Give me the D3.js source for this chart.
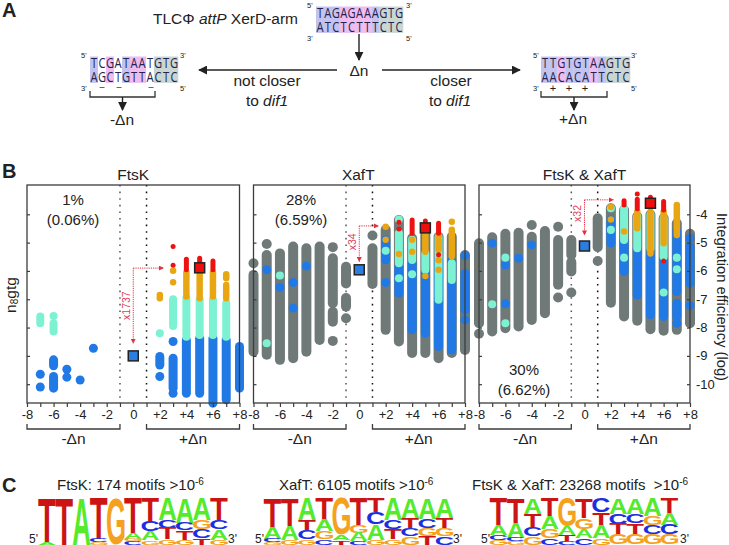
<!DOCTYPE html>
<html><head><meta charset="utf-8">
<style>html,body{margin:0;padding:0;background:#fff}svg{display:block}
text{font-family:"Liberation Sans",Arial,sans-serif;fill:#222}</style>
<script src="https://cdnjs.cloudflare.com/ajax/libs/d3/7.8.5/d3.min.js"></script>
</head><body><svg id="c" width="729" height="545"></svg>
<script>
// ---------- DATA ----------
const xTicks=[-8,-7,-6,-5,-4,-3,-2,-1,0,1,2,3,4,5,6,7,8];
const xLabels={"-8":"-8","-6":"-6","-4":"-4","-2":"-2","0":"0","2":"+2","4":"+4","6":"+6","8":"+8"};
const yTicks=[-4,-5,-6,-7,-8,-9,-10];

// each mark: [delta n, log efficiency top, log efficiency bottom (optional)]
const ftskGray=[];
const ftskBlue=[[-7,-9.65],[-7,-10.1],[-6,-9.14,-9.35],[-6,-9.73,-10.14],[-5,-9.47],[-5,-9.75],[-4,-9.85],[-3,-8.73],[2,-9.02,-9.32],[2,-9.73],[3,-8.49],[3,-9.08,-10.14],[3,-10.32],[4,-8.44,-10.32],[5,-8.38,-10.32],[6,-8.38,-10.67],[7,-8.44,-10.55],[8,-8.67,-10.14]];
const ftskCyan=[[-7,-7.61,-7.85],[-6,-7.59],[-6,-7.85,-8.14],[2,-8.2],[3,-7.0,-7.94],[4,-6.96,-8.32],[5,-7.02,-8.26],[6,-7.02,-8.26],[7,-7.13,-8.32]];
const ftskOrange=[[2,-6.85,-6.96],[3,-5.99],[3,-6.4],[4,-6.05,-6.9],[5,-6.05,-6.96],[6,-6.05,-6.9],[7,-6.12,-6.26],[7,-6.5,-6.96]];
const ftskRed=[[3,-5.14],[3,-5.8],[4,-5.59,-5.96],[5,-5.55,-5.9],[6,-5.65,-5.96]];
const ftskSquares=[[0,-9.0,"#2a7de1"],[5,-5.89,"#f00d0d"]];

const xafGray=[[-8,-5.73],[-8,-6.14,-8.85],[-7,-5.05],[-7,-5.44,-8.96],[-6,-5.38,-9.14],[-5,-5.14,-9.08],[-4,-5.2,-8.85],[-3,-5.14,-8.44],[-2,-5.16],[-2,-5.55,-7.14],[-2,-7.44,-7.79],[-2,-8.47],[-1,-5.85,-6.44],[-1,-6.96,-7.26],[-1,-7.67],[1,-4.75],[1,-5.2,-6.46],[2,-4.55,-8.08],[3,-4.2,-8.49],[4,-4.85,-8.9],[5,-4.73,-8.9],[6,-4.79,-9.08],[7,-4.79,-8.9],[8,-5.44,-8.79]];
const xafBlue=[[-7,-5.96],[-6,-6.58],[-5,-6.41],[-5,-7.31],[-4,-5.83],[2,-4.9,-5.61],[2,-6.41],[3,-5.85,-6.79],[4,-5.73,-8.08],[5,-6.02,-8.2],[6,-5.61,-8.67],[7,-5.61,-8.79],[8,-5.46],[8,-6.08,-7.38],[8,-7.73]];
const xafCyan=[[-7,-8.55],[-6,-6.16],[2,-5.29],[3,-4.18],[3,-4.67,-5.73],[3,-6.26],[4,-4.9,-5.61],[4,-6.12],[5,-5.38,-5.96],[6,-4.81,-6.9],[6,-7.02],[7,-5.73,-6.32]];
const xafOrange=[[2,-4.44],[2,-4.9],[3,-5.4],[4,-4.9],[4,-5.32],[5,-4.73,-5.32],[5,-6.18],[6,-4.75,-5.25],[6,-5.62],[6,-5.96],[7,-4.26],[7,-4.55,-5.49]];
const xafRed=[[3,-4.28],[3,-4.52],[4,-4.2,-4.67],[5,-4.24],[6,-4.32,-4.67],[6,-5.43]];
const xafSquares=[[0,-5.96,"#2a7de1"],[5,-4.48,"#f00d0d"]];

const bothGray=[[-8,-5.02,-7.85],[-8,-8.22],[-7,-4.81,-8.14],[-6,-4.69,-8.02],[-5,-4.65,-7.96],[-4,-4.38],[-4,-4.79,-7.73],[-3,-4.59,-7.49],[-2,-4.44],[-2,-4.91,-6.49],[-2,-6.94],[-1,-4.91,-5.44],[-1,-5.69,-6.02],[-1,-6.76],[1,-4.14,-5.16],[1,-5.65],[2,-3.79,-7.12],[3,-3.85,-7.61],[4,-4.08,-7.76],[5,-4.02,-8.06],[6,-4.14,-8.11],[7,-4.32,-8.08],[8,-4.69,-7.85]];
const bothBlue=[[-7,-5.02],[-6,-5.79],[-6,-7.16],[-5,-5.55],[-4,-5.08],[2,-4.2,-5.02],[3,-4.91,-6.02],[4,-5.2,-6.85],[5,-5.44,-7.55],[6,-5.61,-7.61],[7,-4.61,-6.73],[7,-7.14,-7.61],[7,-7.85],[8,-4.85],[8,-5.14,-6.44],[8,-7.22]];
const bothCyan=[[-7,-7.18],[-6,-5.53],[-6,-7.85],[2,-3.79],[2,-4.55],[3,-3.79,-4.91],[3,-5.53],[4,-4.08,-5.2],[5,-4.02,-5.2],[6,-4.14,-5.5],[6,-6.76],[7,-5.53],[7,-5.94]];
const bothOrange=[[2,-3.74],[2,-4.18],[3,-4.61],[4,-3.91,-4.49],[5,-3.91,-5.26],[5,-5.38],[6,-3.91,-5.02],[7,-3.67,-4.73]];
const bothRed=[[3,-3.52,-3.67],[4,-3.28],[4,-3.47,-3.8],[5,-3.4],[5,-3.65],[6,-3.55,-3.85],[6,-5.65]];
const bothSquares=[[0,-5.12,"#2a7de1"],[5,-3.61,"#f00d0d"]];

// fold-change arrows: [top level, bottom level, end delta n, label]
const ftskArrow=[-5.9,-8.55,2.27,"x1737"];
const xafArrow=[-4.41,-5.67,1.45,"x34"];
const bothArrow=[-3.49,-4.73,2.19,"x32"];

// sequence logos: each column lists [letter, relative height] from top to bottom
const logoFtsK=[
[["T",132],["A",8]],[["T",140]],[["A",140]],[["T",123],["C",10],["G",7]],[["G",140]],
[["T",105],["A",18],["G",7],["C",10]],[["T",70],["C",30],["A",27],["G",13]],[["A",65],["C",25],["T",33],["G",17]],
[["A",75],["C",22],["T",28],["G",15]],[["A",67],["G",26],["C",27],["T",20]],[["T",65],["C",28],["A",32],["G",15]]];
const logoXafT=[
[["T",90],["A",33],["C",10],["G",7]],[["T",83],["A",42],["G",15]],[["A",65],["T",32],["C",26],["G",17]],
[["T",65],["A",35],["G",23],["C",17]],[["G",110],["A",17],["T",13]],[["T",80],["G",25],["A",25],["C",10]],
[["T",43],["C",37],["A",45],["G",15]],[["A",65],["C",28],["T",30],["G",17]],[["A",60],["T",30],["C",25],["G",25]],
[["A",63],["C",27],["G",25],["T",25]],[["A",60],["T",30],["G",25],["C",25]]];
const logoBoth=[
[["T",80],["A",30],["C",15],["G",15]],[["T",75],["A",45],["C",10],["G",10]],[["A",47],["T",40],["C",28],["G",25]],
[["T",55],["A",38],["G",27],["C",20]],[["G",85],["A",25],["T",20],["C",10]],[["T",60],["G",33],["A",27],["C",20]],
[["C",43],["T",40],["A",37],["G",20]],[["A",47],["C",30],["T",33],["G",30]],[["A",47],["C",28],["T",32],["G",33]],
[["A",53],["G",27],["C",27],["G",33]],[["T",45],["A",35],["C",30],["G",30]]];

const seqTop=["TAGAGAAAGTG","ATCTCTTTCTC"];
const seqLeft=["TCGATAATGTG","AGCTGTTACTC"];
const seqRight=["TTGTGTAAGTG","AACACATTCTC"];
const shadeTop="bbbppppbggg";
const shadeLeft="bwpwbppwggg";
const shadeRight="bbpbbbpbggg";

// ---------- STYLE ----------
const dark="#3c3c3c";
const svg=d3.select("#c");
const defs=svg.append("defs");
function marker(id,color,w,h){
  defs.append("marker").attr("id",id).attr("viewBox","0 0 10 10").attr("refX",9).attr("refY",5)
   .attr("markerWidth",w).attr("markerHeight",h).attr("orient","auto").attr("markerUnits","userSpaceOnUse")
   .append("path").attr("d","M0,0L10,5L0,10Z").attr("fill",color);
}
marker("ak","#222",9,9); marker("ar","#e2303f",5,5);

function txt(x,y,s,size,opts={}){
  const t=svg.append("text").attr("x",x).attr("y",y).attr("font-size",size)
   .attr("text-anchor",opts.anchor||"middle").text(s);
  if(opts.bold)t.attr("font-weight","bold");
  if(opts.italic)t.attr("font-style","italic");
  if(opts.fill)t.style("fill",opts.fill);
  if(opts.rot!==undefined)t.attr("transform",`rotate(${opts.rot} ${x} ${y})`);
  return t;
}
function arrow(x1,y1,x2,y2){
  svg.append("line").attr("x1",x1).attr("y1",y1).attr("x2",x2).attr("y2",y2)
   .attr("stroke","#222").attr("stroke-width",1.4).attr("marker-end","url(#ak)");
}

// ---------- PANEL A ----------
txt(2,17,"A",20,{anchor:"start",bold:true});
txt(2,178,"B",20,{anchor:"start",bold:true});
txt(2,492,"C",20,{anchor:"start",bold:true});

const shade={b:"#c3c3f0",p:"#efbcef",g:"#c9d6d2",w:"#ffffff"};
function seqBlock(x0,x1,y0,rows,sh,lab){
  const xs=d3.scaleBand().domain(d3.range(rows[0].length)).range([x0,x1]);
  const h=13.2;
  svg.append("g").selectAll("rect").data(sh.split("")).join("rect")
   .attr("x",(d,i)=>xs(i)).attr("y",y0).attr("width",xs.bandwidth()+.3).attr("height",h*2)
   .attr("fill",d=>shade[d]);
  rows.forEach((r,ri)=>{
    const by=y0+11.5+ri*14;
    svg.append("g").selectAll("text").data(r.split("")).join("text")
     .text(d=>d).attr("text-anchor","middle").attr("font-size",14)
     .style("font-family","'Open Sans',sans-serif").style("fill","#23234d")
     .attr("transform",(d,i)=>`translate(${xs(i)+xs.bandwidth()/2},${by}) scale(.8,1)`);
  });
  lab.forEach(l=>txt(l[0],l[1],l[2],7.5,{anchor:"start"}));
}
const t0=svg.append("text").attr("x",153).attr("y",24).attr("font-size",15.5);
t0.append("tspan").text("TLCΦ ");t0.append("tspan").attr("font-style","italic").text("attP");t0.append("tspan").text(" XerD-arm");
seqBlock(316,403,6.5,seqTop,shadeTop,[[307,8,"5'"],[406,8,"3'"],[307,41,"3'"],[406,41,"5'"]]);
seqBlock(90,178,56.5,seqLeft,shadeLeft,[[81,58,"5'"],[180,58,"3'"],[81,91,"3'"],[180,91,"5'"]]);
seqBlock(541,630,56.5,seqRight,shadeRight,[[533,58,"5'"],[631,58,"3'"],[533,91,"3'"],[631,91,"5'"]]);
arrow(359,34,359,60);
txt(359,76,"Δn",15.5);
arrow(337,70,199,70); arrow(382,70,520,70);
txt(267,86,"not closer",15.5);
const d1=svg.append("text").attr("x",267).attr("y",106).attr("font-size",15.5).attr("text-anchor","middle");
d1.append("tspan").text("to ");d1.append("tspan").attr("font-style","italic").text("dif1");
txt(451,86,"closer",15.5);
const d2=svg.append("text").attr("x",450).attr("y",106).attr("font-size",15.5).attr("text-anchor","middle");
d2.append("tspan").text("to ");d2.append("tspan").attr("font-style","italic").text("dif1");
[102,119,151].forEach(x=>txt(x,90,"–",9));
[553,569,585].forEach(x=>txt(x,92,"+",11));
function bracketA(x0,x1,xm){
  svg.append("path").attr("d",`M${x0},91V97H${x1}V91`).attr("fill","none").attr("stroke","#333").attr("stroke-width",1.3);
  arrow(xm,97,xm,110);
}
bracketA(90,155,122.5); bracketA(541,607,574);
txt(122,125,"-Δn",15.5); txt(573,124,"+Δn",15.5);

// ---------- PANEL B ----------
const y=d3.scaleLinear().domain([-4,-10]).range([214.3,384.2]);
const yTop=185,yBot=403;
const widths={gray:10,blue:9,cyan:8,orange:6.5,red:5};
const colors={gray:"#6f7a78",blue:"#2179e6",cyan:"#7df2d3",orange:"#e8a712",red:"#ee1111"};
function panel(cfg){
  const x=d3.scaleLinear().domain([-8,8]).range([cfg.x0,cfg.x1]);
  const g=svg.append("g");
  [[-1,"#555"],[1,"#111"]].forEach(([v,c])=>g.append("line").attr("x1",x(v)).attr("x2",x(v)).attr("y1",yTop).attr("y2",yBot)
    .attr("stroke",c).attr("stroke-width",1.5).attr("stroke-dasharray","1.6 5"));
  [["gray",cfg.gray],["blue",cfg.blue],["cyan",cfg.cyan],["orange",cfg.orange],["red",cfg.red]].forEach(([k,arr])=>{
    g.append("g").selectAll("line").data(arr).join("line")
     .attr("x1",d=>x(d[0])).attr("x2",d=>x(d[0]))
     .attr("y1",d=>y(d[1])).attr("y2",d=>y(d.length>2?d[2]:d[1])+.01)
     .attr("stroke",colors[k]).attr("stroke-width",widths[k]).attr("stroke-linecap","round");
  });
  g.append("rect").attr("x",cfg.x0).attr("y",yTop).attr("width",cfg.x1-cfg.x0).attr("height",yBot-yTop)
   .attr("fill","none").attr("stroke",dark).attr("stroke-width",1.3);
  const ax=d3.axisBottom(x).tickValues(xTicks).tickSize(4).tickPadding(3).tickFormat(d=>xLabels[d]||"");
  const ga=g.append("g").attr("transform",`translate(0,${yBot})`).call(ax);
  ga.select(".domain").remove();
  ga.selectAll("line").attr("stroke",dark).attr("stroke-width",1.2);
  ga.selectAll("text").attr("font-size",13).style("font-family","'Liberation Sans',Arial,sans-serif").style("fill","#222");
  const al=d3.axisRight(y).tickValues(yTicks).tickSize(3).tickFormat("");
  const gl=g.append("g").attr("transform",`translate(${cfg.x0},0)`).call(al);
  gl.select(".domain").remove();gl.selectAll("line").attr("stroke",dark).attr("stroke-width",1.2);
  if(cfg.right){
    const ar=d3.axisLeft(y).tickValues(yTicks).tickSize(3).tickFormat("");
    const gr=g.append("g").attr("transform",`translate(${cfg.x1},0)`).call(ar);
    gr.select(".domain").remove();gr.selectAll("line").attr("stroke",dark).attr("stroke-width",1.2);
    yTicks.forEach(v=>txt(cfg.x1+6,y(v)+4.5,String(v),13,{anchor:"start"}));
  }
  [[-8,-1,"-Δn"],[1,8,"+Δn"]].forEach(([a,b,s])=>{
    g.append("path").attr("d",`M${x(a)},424V429H${x(b)}V424`).attr("fill","none").attr("stroke",dark).attr("stroke-width",1.3);
    txt((x(a)+x(b))/2,444,s,15.5);
  });
  const [top,bot,end,label]=cfg.arrow;
  g.append("line").attr("x1",x(0)).attr("x2",x(0)).attr("y1",y(top)).attr("y2",y(bot))
   .attr("stroke","#e2303f").attr("stroke-width",1).attr("stroke-dasharray","1.2 1").attr("marker-end","url(#ar)");
  g.append("line").attr("x1",x(0)).attr("x2",x(end)).attr("y1",y(top)).attr("y2",y(top))
   .attr("stroke","#e2303f").attr("stroke-width",1).attr("stroke-dasharray","1.2 1").attr("marker-end","url(#ar)");
  const ly=(y(top)+y(bot))/2+cfg.labelDy;
  txt(x(0)-3,ly,label,10.5,{fill:"#e0405a",rot:-90});
  g.append("g").selectAll("rect").data(cfg.squares).join("rect")
   .attr("x",d=>x(d[0])-5).attr("y",d=>y(d[1])-5).attr("width",10).attr("height",10)
   .attr("fill",d=>d[2]).attr("stroke","#222").attr("stroke-width",1.5);
  txt((cfg.x0+cfg.x1)/2+cfg.titleDx,180,cfg.title,15.5);
  txt(cfg.pctX,cfg.pctY,cfg.pct[0],15);
  txt(cfg.pctX,cfg.pctY+20,cfg.pct[1],15);
}
panel({x0:27,x1:239.5,title:"FtsK",titleDx:0,pct:["1%","(0.06%)"],pctX:73,pctY:205,
  gray:ftskGray,blue:ftskBlue,cyan:ftskCyan,orange:ftskOrange,red:ftskRed,squares:ftskSquares,arrow:ftskArrow,labelDy:0});
panel({x0:253.5,x1:465,title:"XafT",titleDx:-1,pct:["28%","(6.59%)"],pctX:301,pctY:205,
  gray:xafGray,blue:xafBlue,cyan:xafCyan,orange:xafOrange,red:xafRed,squares:xafSquares,arrow:xafArrow,labelDy:-2});
panel({x0:479,x1:690,title:"FtsK & XafT",titleDx:0,pct:["30%","(6.62%)"],pctX:524,pctY:375,right:true,
  gray:bothGray,blue:bothBlue,cyan:bothCyan,orange:bothOrange,red:bothRed,squares:bothSquares,arrow:bothArrow,labelDy:-4});

const nl=svg.append("text").attr("transform","translate(16,295) rotate(-90)").attr("text-anchor","middle").attr("font-size",15.5);
nl.append("tspan").text("n");nl.append("tspan").attr("font-size",10).attr("dy",2).text("8");nl.append("tspan").attr("dy",-2).text("gtg");
txt(717,297,"Integration efficiency (log)",14.7,{rot:90});

// ---------- PANEL C ----------
const logoColor={T:"#cc1414",A:"#55ea2c",G:"#f4a21e",C:"#1c2fe0"};
const ctx=document.createElement("canvas").getContext("2d");
ctx.font="bold 100px 'Liberation Sans'";
const hScale=d3.scaleLinear().domain([0,100]).range([0,33.3]);
function logo(data,x0,w,top){
  const xb=d3.scaleBand().domain(d3.range(data.length)).range([x0,x0+w*data.length]);
  const g=svg.append("g");
  data.forEach((col,i)=>{
    let yc=top;
    col.forEach(([ch,h])=>{
      const m=ctx.measureText(ch);
      const inkW=m.actualBoundingBoxRight+m.actualBoundingBoxLeft;
      const inkH=m.actualBoundingBoxAscent+m.actualBoundingBoxDescent;
      const px=hScale(h);
      const sx=xb.bandwidth()*1.02/inkW, sy=px/inkH;
      const bx=xb(i)-xb.bandwidth()*.01+m.actualBoundingBoxLeft*sx;
      const by=yc+px-m.actualBoundingBoxDescent*sy;
      g.append("text").text(ch).attr("font-size",100).attr("font-weight","bold")
       .attr("transform",`translate(${bx},${by}) scale(${sx},${sy})`)
       .style("fill",logoColor[ch]);
      yc+=px;
    });
  });
}
logo(logoFtsK,38.5,17.2,498);
logo(logoXafT,264,17.2,498);
logo(logoBoth,490,17.1,498);
function logoTitle(x,parts){
  const t=svg.append("text").attr("x",x).attr("y",490).attr("font-size",15).attr("xml:space","preserve");
  t.append("tspan").text(parts);
  t.append("tspan").attr("font-size",10).attr("dy",-5).text("-6");
}
logoTitle(57,"FtsK: 174 motifs >10");
logoTitle(279,"XafT: 6105 motifs >10");
logoTitle(472,"FtsK & XafT: 23268 motifs  >10");
[[29,"5'"],[228,"3'"],[255,"5'"],[453,"3'"],[481,"5'"],[680,"3'"]].forEach(([x,s])=>txt(x,543,s,12,{anchor:"start"}));
</script></body></html>
